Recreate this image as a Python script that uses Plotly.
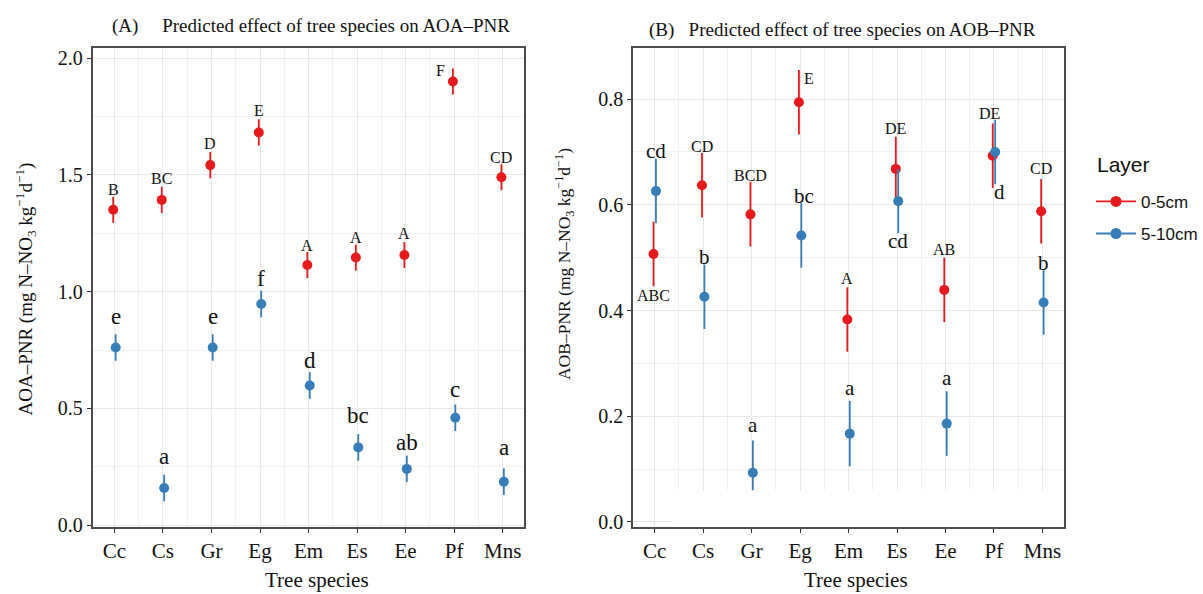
import plotly.graph_objects as go

# ---------------- data ----------------
species = ["Cc", "Cs", "Gr", "Eg", "Em", "Es", "Ee", "Pf", "Mns"]
layers = ["0-5cm", "5-10cm"]

# Panel A: AOA-PNR
aoa_05 = [1.351, 1.393, 1.542, 1.682, 1.114, 1.146, 1.157, 1.900, 1.490]
aoa_05_err = [0.056, 0.056, 0.056, 0.056, 0.056, 0.056, 0.056, 0.056, 0.056]
aoa_510 = [0.761, 0.159, 0.761, 0.947, 0.598, 0.333, 0.241, 0.460, 0.186]
aoa_510_err = [0.057, 0.057, 0.057, 0.057, 0.057, 0.057, 0.057, 0.057, 0.057]
aoa_05_letters = ["B", "BC", "D", "E", "A", "A", "A", "F", "CD"]
aoa_510_letters = ["e", "a", "e", "f", "d", "bc", "ab", "c", "a"]
aoa_05_label_y = [1.439, 1.484, 1.634, 1.777, 1.199, 1.234, 1.249, 1.946, 1.573]
aoa_510_label_y = [0.895, 0.295, 0.895, 1.056, 0.707, 0.470, 0.354, 0.583, 0.333]
aoa_05_label_dx = [0, 0, 0, 0, 0, 0, 0, -0.25, 0]
aoa_510_label_dx = [0, 0, 0, 0, 0, 0, 0, 0, 0]

# Panel B: AOB-PNR
aob_05 = [0.507, 0.637, 0.582, 0.794, 0.383, 0.668, 0.439, 0.693, 0.588]
aob_05_err = [0.061, 0.061, 0.061, 0.061, 0.061, 0.061, 0.061, 0.061, 0.061]
aob_510 = [0.626, 0.426, 0.093, 0.542, 0.167, 0.607, 0.186, 0.700, 0.415]
aob_510_err = [0.061, 0.061, 0.061, 0.061, 0.062, 0.061, 0.061, 0.061, 0.061]
aob_05_letters = ["ABC", "CD", "BCD", "E", "A", "DE", "AB", "DE", "CD"]
aob_510_letters = ["cd", "b", "a", "bc", "a", "cd", "a", "d", "b"]
aob_05_label_y = [0.429, 0.711, 0.655, 0.840, 0.461, 0.744, 0.516, 0.772, 0.668]
aob_510_label_y = [0.701, 0.501, 0.183, 0.617, 0.254, 0.531, 0.273, 0.624, 0.490]
aob_05_label_dx = [0, 0, 0, 0.2, 0, 0, 0, -0.07, 0]
aob_510_label_dx = [0, 0, 0, 0.05, 0, 0, 0, 0.1, 0]

# ---------------- style ----------------
RED = "#E41A1C"
BLUE = "#377EB8"
SERIF = "Liberation Serif, Times New Roman, serif"
SANS = "Liberation Sans, Arial, sans-serif"
DODGE = 0.025

xpos = list(range(len(species)))

fig = go.Figure()


def add_panel(xa, ya, top, top_err, bot, bot_err):
    for vals, err, color, off in [(top, top_err, RED, -DODGE), (bot, bot_err, BLUE, DODGE)]:
        fig.add_trace(go.Scatter(
            x=[p + off for p in xpos], y=vals, mode="markers",
            marker=dict(color=color, size=10, line=dict(width=0)),
            error_y=dict(type="data", array=err, visible=True, color=color,
                         thickness=1.8, width=0),
            xaxis=xa, yaxis=ya, showlegend=False, hoverinfo="x+y"))


add_panel("x", "y", aoa_05, aoa_05_err, aoa_510, aoa_510_err)
add_panel("x2", "y2", aob_05, aob_05_err, aob_510, aob_510_err)

# legend-only traces
for name, color, grp in [(layers[0], RED, "g1"), (layers[1], BLUE, "g2")]:
    fig.add_trace(go.Scatter(
        x=[None], y=[None], mode="lines+markers", name=name, legendgroup=grp,
        marker=dict(color=color, size=11), line=dict(color=color, width=1.8),
        xaxis="x2", yaxis="y2"))

annotations = []


def add_letters(xref, yref, letters, ys, dxs, font_size, off):
    for i, (t, yy, dx) in enumerate(zip(letters, ys, dxs)):
        annotations.append(dict(
            x=xpos[i] + off + dx, y=yy, xref=xref, yref=yref, text=t,
            showarrow=False, xanchor="center", yanchor="middle",
            font=dict(family=SERIF, size=font_size, color="#111111")))


add_letters("x", "y", aoa_05_letters, aoa_05_label_y, aoa_05_label_dx, 16, -DODGE)
add_letters("x", "y", aoa_510_letters, aoa_510_label_y, aoa_510_label_dx, 23, DODGE)
add_letters("x2", "y2", aob_05_letters, aob_05_label_y, aob_05_label_dx, 16, -DODGE)
add_letters("x2", "y2", aob_510_letters, aob_510_label_y, aob_510_label_dx, 21, DODGE)

# titles
annotations += [
    dict(x=0.259, y=0.958, xref="paper", yref="paper", showarrow=False,
         text="(A)&nbsp;&nbsp;&nbsp;&nbsp;&nbsp;Predicted effect of tree species on AOA–PNR",
         font=dict(family=SERIF, size=19, color="#111111"), xanchor="center", yanchor="middle"),
    dict(x=0.7014, y=0.9507, xref="paper", yref="paper", showarrow=False,
         text="(B)&nbsp;&nbsp;&nbsp;Predicted effect of tree species on AOB–PNR",
         font=dict(family=SERIF, size=19, color="#111111"), xanchor="center", yanchor="middle"),
    dict(x=0.0216, y=0.5076, xref="paper", yref="paper", showarrow=False, textangle=-90,
         text="AOA–PNR (mg N–NO<sub>3</sub> kg<sup>−1</sup>d<sup>−1</sup>)",
         font=dict(family=SERIF, size=19, color="#111111"), xanchor="center", yanchor="middle"),
    dict(x=0.4705, y=0.5497, xref="paper", yref="paper", showarrow=False, textangle=-90,
         text="AOB–PNR (mg N–NO<sub>3</sub> kg<sup>−1</sup>d<sup>−1</sup>)",
         font=dict(family=SERIF, size=17.5, color="#111111"), xanchor="center", yanchor="middle"),
    dict(x=0.2643, y=0.008, xref="paper", yref="paper", showarrow=False,
         text="Tree species", font=dict(family=SERIF, size=21, color="#111111"),
         xanchor="center", yanchor="middle"),
    dict(x=0.7128, y=0.008, xref="paper", yref="paper", showarrow=False,
         text="Tree species", font=dict(family=SERIF, size=21, color="#111111"),
         xanchor="center", yanchor="middle"),
    dict(x=0.9117, y=0.7205, xref="paper", yref="paper", showarrow=False,
         text="Layer", font=dict(family=SANS, size=21, color="#111111"),
         xanchor="left", yanchor="middle"),
]

GRID = "#e8e8e8"
MINOR = "#f1f1f1"
LINE = "#4d4d4d"

xaxis_common = dict(
    tickmode="array", tickvals=xpos, ticktext=species, range=[-0.45, len(species) - 0.55],
    showgrid=True, gridcolor=GRID, gridwidth=1.3, zeroline=False,
    showline=True, linecolor=LINE, linewidth=1.5, mirror=True,
    ticks="outside", ticklen=4, tickcolor="#333333", tickwidth=1.2,
    tickfont=dict(family=SERIF, size=21, color="#111111"),
    minor=dict(tickvals=[p + 0.5 for p in xpos[:-1]], showgrid=True,
               gridcolor=MINOR, gridwidth=1),
)
yaxis_common = dict(
    showgrid=True, gridcolor=GRID, gridwidth=1.3, zeroline=False,
    showline=True, linecolor=LINE, linewidth=1.5, mirror=True,
    ticks="outside", ticklen=4, tickcolor="#333333", tickwidth=1.2,
    tickfont=dict(family=SERIF, size=20, color="#111111"),
)

fig.update_layout(
    width=1203, height=594,
    margin=dict(l=0, r=0, t=0, b=0),
    paper_bgcolor="white", plot_bgcolor="white",
    xaxis=dict(domain=[0.0771, 0.4367], anchor="y", **xaxis_common),
    yaxis=dict(domain=[0.0985, 0.9197], anchor="x", range=[-0.01, 2.044],
               tickvals=[0, 0.5, 1.0, 1.5, 2.0], ticktext=["0.0", "0.5", "1.0", "1.5", "2.0"],
               minor=dict(tick0=0, dtick=0.25, showgrid=True, gridcolor=MINOR, gridwidth=1),
               **yaxis_common),
    xaxis2=dict(domain=[0.5270, 0.8861], anchor="y2", **xaxis_common),
    yaxis2=dict(domain=[0.0985, 0.9197], anchor="x2", range=[-0.0106, 0.897],
                tickvals=[0, 0.2, 0.4, 0.6, 0.8], ticktext=["0.0", "0.2", "0.4", "0.6", "0.8"],
                minor=dict(tick0=0, dtick=0.1, showgrid=True, gridcolor=MINOR, gridwidth=1),
                **yaxis_common),
    annotations=annotations,
    legend=dict(x=0.9086, y=0.6869, xanchor="left", yanchor="top",
                font=dict(family=SANS, size=17, color="#111111"),
                itemwidth=40, tracegroupgap=7, bgcolor="rgba(0,0,0,0)"),
    shapes=[dict(type="rect", xref="x2 domain", yref="y2", x0=0.088, x1=0.996,
                 y0=-0.0095, y1=0.06, fillcolor="white", line=dict(width=0), layer="above")],
    showlegend=True,
)

fig.write_html("out.html")
